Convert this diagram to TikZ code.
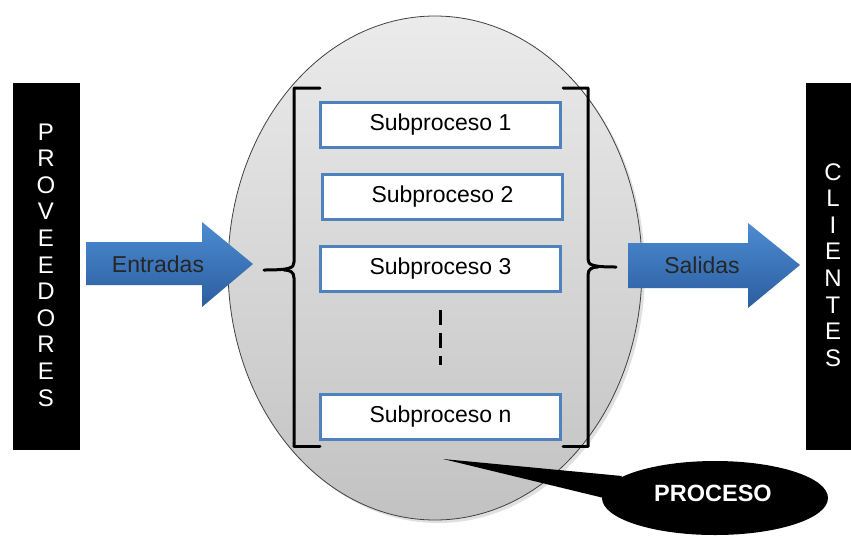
\documentclass[tikz,border=0pt]{standalone}
\usepackage{fontspec}
\setmainfont{Liberation Sans}
\usetikzlibrary{shapes.geometric}
\definecolor{boxblue}{HTML}{4F81BD}
\definecolor{arrtop}{HTML}{4C8BD2}
\definecolor{arrbot}{HTML}{2B5E9F}
\definecolor{elltop}{HTML}{EBEBEB}
\definecolor{ellbot}{HTML}{C2C2C2}
\tikzset{
  subbox/.style={draw=boxblue, line width=3pt, fill=white, minimum width=240pt, minimum height=45pt, inner sep=0pt, font=\fontsize{23}{26}\selectfont},
  bracketline/.style={line width=3pt, line cap=round, line join=round},
  bigarrow/.style={top color=arrtop, bottom color=arrbot, draw=none},
  arrtext/.style={font=\fontsize{23}{26}\selectfont, text=black!85},
  sidebar/.style={fill=black, inner sep=0pt},
  sidetext/.style={text=white, align=center, font=\fontsize{24}{26.6}\selectfont, inner sep=0pt}
}
\begin{document}
\begin{tikzpicture}[x=1pt,y=-1pt]
\useasboundingbox (0,0) rectangle (851,542);

% side bars
\node[sidebar, minimum width=67pt, minimum height=367pt] (prov) at (46,266.5) {};
\node[sidetext] (provtext) at (46,265) {P\\R\\O\\V\\E\\E\\D\\O\\R\\E\\S};
\node[sidebar, minimum width=45pt, minimum height=367pt] (cli) at (828.5,266.5) {};
\node[sidetext] (clitext) at (833,265) {C\\L\\I\\E\\N\\T\\E\\S};

% process ellipse
\fill[black!20, opacity=0.6] (438,271) ellipse [x radius=207, y radius=252];
\node[ellipse, minimum width=414pt, minimum height=504pt, top color=elltop, bottom color=ellbot, draw=black!75, line width=0.8pt] (proc) at (435,268) {};

% brackets
\draw[bracketline] (320,88) -- (294,88) -- (294,262) .. controls (294,268) and (290,270) .. (264,270);
\draw[bracketline] (294,446) -- (294,278) .. controls (294,272) and (290,270) .. (284,270);
\draw[bracketline] (294,446) -- (320,446);
\draw[bracketline] (563,88) -- (588,88) -- (588,259) .. controls (588,265) and (592,267) .. (616,267);
\draw[bracketline] (588,446) -- (588,275) .. controls (588,269) and (592,267) .. (598,267);
\draw[bracketline] (588,446) -- (563,446);

% subprocesses
\node[subbox] (s1) at (440.5,125) {Subproceso 1};
\node[subbox] (s2) at (442.5,197) {Subproceso 2};
\node[subbox] (s3) at (440.5,268.5) {Subproceso 3};
\node[subbox] (sn) at (440.5,416.5) {Subproceso n};
\coordinate (dtop) at (440,310);
\coordinate (dbot) at (440,365);
\draw[line width=3pt, dash pattern=on 15pt off 8pt] (dtop) -- (dbot);

% arrows
\shade[bigarrow] (86,242) -- (202,242) -- (202,222) -- (253,264) -- (202,307) -- (202,285) -- (86,285) -- cycle;
\node[arrtext] (entradas) at (158,264) {Entradas};
\shade[bigarrow] (628,243) -- (748,243) -- (748,223) -- (800,265) -- (748,308) -- (748,288) -- (628,288) -- cycle;
\node[arrtext] (salidas) at (702,265) {Salidas};

% callout
\coordinate (tailtip) at (443,459);
\node[ellipse, fill=black, minimum width=226pt, minimum height=74pt] (callout) at (715,498) {};
\fill[black] (tailtip) -- (622,476) -- (608,499) -- cycle;
\node[text=white, font=\bfseries\fontsize{23.5}{26}\selectfont] (proctext) at (713,493) {PROCESO};
\end{tikzpicture}
\end{document}
